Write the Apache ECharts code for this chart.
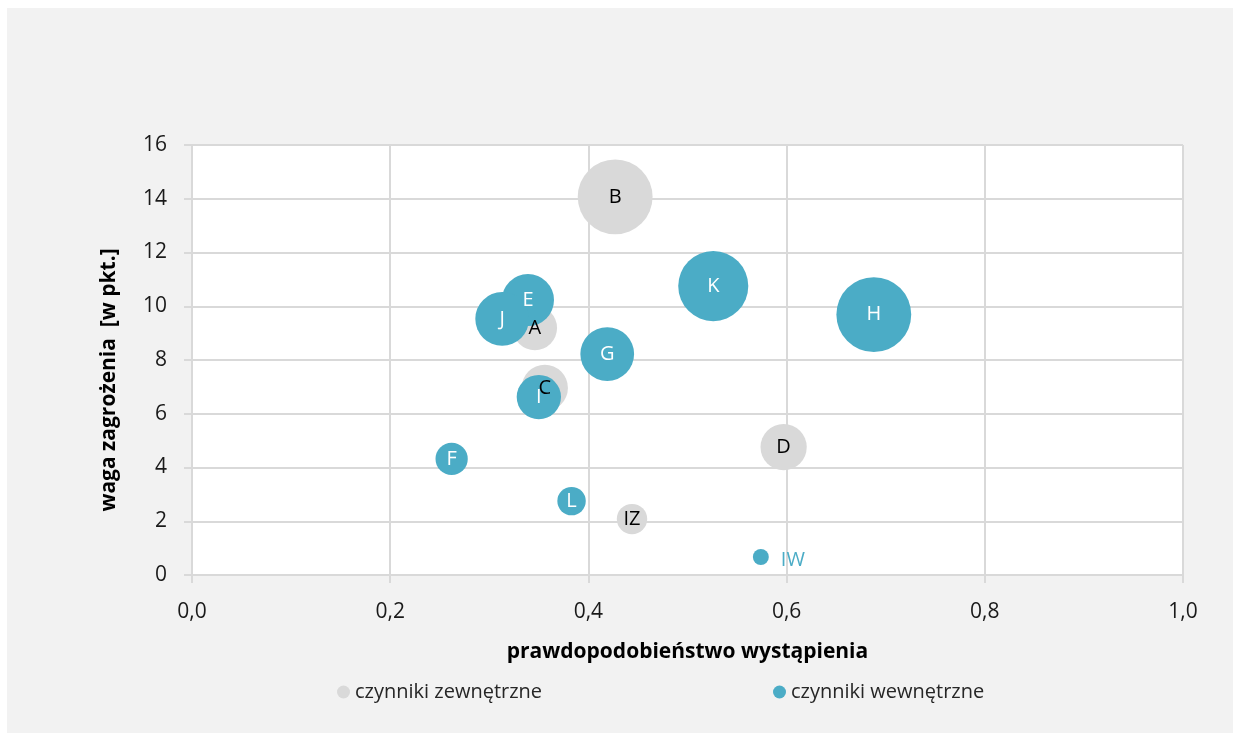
<!DOCTYPE html>
<html>
<head>
<meta charset="utf-8">
<script src="https://cdn.jsdelivr.net/npm/echarts@6/dist/echarts.min.js"></script>
<style>
  html, body { margin: 0; padding: 0; background: #fff; }
  #chart { width: 1240px; height: 740px; }
</style>
</head>
<body>
<div id="chart"></div>
<script>
// czynniki zewnętrzne: [prawdopodobieństwo, waga, wielkość bąbla]
var zewnNames = ['B', 'A', 'C', 'D', 'IZ'];
var zewnProb = [0.427, 0.346, 0.356, 0.597, 0.444];
var zewnWaga = [14.07, 9.19, 6.96, 4.76, 2.08];
var zewnSize = [97, 34, 37, 37, 16];

// czynniki wewnętrzne
var wewnNames = ['K', 'H', 'E', 'J', 'G', 'I', 'F', 'L', 'IW'];
var wewnProb = [0.526, 0.688, 0.339, 0.313, 0.419, 0.350, 0.262, 0.383, 0.574];
var wewnWaga = [10.75, 9.69, 10.23, 9.53, 8.22, 6.62, 4.32, 2.75, 0.67];
var wewnSize = [85, 97, 47, 50, 50, 34, 18, 14, 4.4];

var xTicks = [0, 0.2, 0.4, 0.6, 0.8, 1.0];
var yTicks = [0, 2, 4, 6, 8, 10, 12, 14, 16];

var FONT = '"Open Sans", "Noto Sans", sans-serif';
var GREY = '#d9d9d9';
var BLUE = '#4bacc6';

function build(names, xs, ys, ss) {
    return names.map(function (n, i) {
        return {name: n, value: [xs[i], ys[i], ss[i]]};
    });
}

function bubbleSize(d) {
    return 7.6 * Math.sqrt(d[2]);
}

var dom = document.getElementById('chart');
var myChart = echarts.init(dom);
var option = {
    animation: false,
    backgroundColor: '#ffffff',
    graphic: [{
        type: 'rect',
        z: -10,
        shape: {x: 7, y: 8, width: 1226, height: 725},
        style: {fill: '#f2f2f2'}
    }],
    grid: {
        left: 192, right: 57, top: 145, bottom: 165,
        show: true, backgroundColor: '#ffffff', borderWidth: 0
    },
    legend: [{
        left: 332, top: 677,
        icon: 'circle', itemWidth: 13, itemHeight: 13, itemGap: 4,
        textStyle: {fontFamily: FONT, fontSize: 20, color: '#262626'},
        data: ['czynniki zewnętrzne']
    }, {
        left: 768, top: 677,
        icon: 'circle', itemWidth: 13, itemHeight: 13, itemGap: 4,
        textStyle: {fontFamily: FONT, fontSize: 20, color: '#262626'},
        data: ['czynniki wewnętrzne']
    }],
    xAxis: {
        type: 'value', min: 0, max: 1, interval: 0.2,
        name: 'prawdopodobieństwo wystąpienia',
        nameLocation: 'middle', nameGap: 67,
        nameTextStyle: {fontFamily: FONT, fontSize: 21, fontWeight: 'bold', color: '#000'},
        axisLine: {show: true, lineStyle: {color: GREY, width: 2}},
        axisTick: {show: true, length: 8, lineStyle: {color: GREY, width: 2}},
        axisLabel: {
            fontFamily: FONT, fontSize: 21, color: '#1a1a1a', margin: 27,
            formatter: function (v) {
                return v.toFixed(1).replace('.', ',');
            }
        },
        splitLine: {show: true, lineStyle: {color: GREY, width: 2}}
    },
    yAxis: {
        type: 'value', min: 0, max: 16, interval: 2,
        name: 'waga zagrożenia  [w pkt.]',
        nameLocation: 'middle', nameGap: 72, nameRotate: 90,
        nameTextStyle: {fontFamily: FONT, fontSize: 21, fontWeight: 'bold', color: '#000', padding: [0, 40, 0, 0]},
        axisLine: {show: true, lineStyle: {color: GREY, width: 2}},
        axisTick: {show: true, length: 8, lineStyle: {color: GREY, width: 2}},
        axisLabel: {fontFamily: FONT, fontSize: 21, color: '#1a1a1a', margin: 25},
        splitLine: {show: true, lineStyle: {color: GREY, width: 2}}
    },
    series: [{
        name: 'czynniki zewnętrzne',
        type: 'scatter',
        itemStyle: {color: GREY, opacity: 1},
        symbolSize: bubbleSize,
        label: {
            show: true, position: 'inside',
            formatter: '{b}',
            fontFamily: FONT, fontSize: 20, color: '#000'
        },
        data: build(zewnNames, zewnProb, zewnWaga, zewnSize)
    }, {
        name: 'czynniki wewnętrzne',
        type: 'scatter',
        itemStyle: {color: BLUE, opacity: 1},
        symbolSize: bubbleSize,
        label: {
            show: true, position: 'inside',
            formatter: '{b}',
            fontFamily: FONT, fontSize: 20, color: '#ffffff'
        },
        data: build(wewnNames, wewnProb, wewnWaga, wewnSize).map(function (d) {
            if (d.name === 'IW') {
                d.label = {position: 'right', distance: 12, color: BLUE, offset: [0, 3]};
            }
            return d;
        })
    }]
};
myChart.setOption(option);
</script>
</body>
</html>
